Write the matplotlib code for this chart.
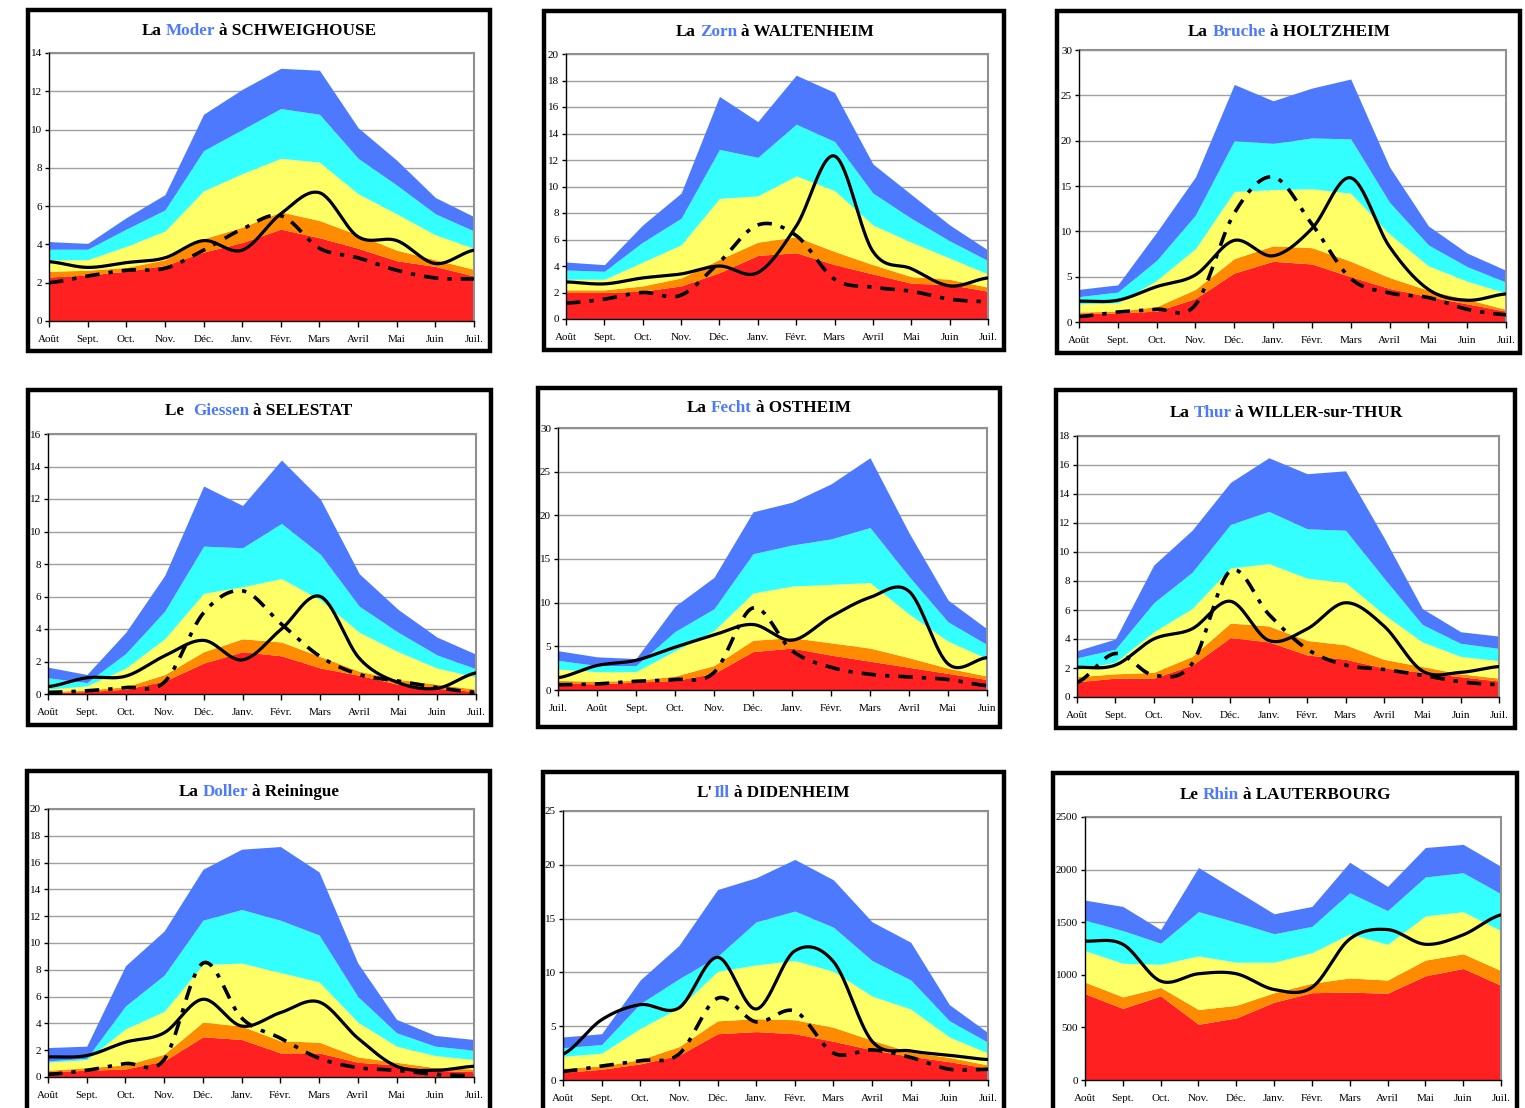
import numpy as np
import matplotlib
matplotlib.use('Agg')
import matplotlib.pyplot as plt
from matplotlib.patches import Rectangle

plt.rcParams['font.family'] = ['Liberation Serif', 'DejaVu Serif']

# month labels (hydrological year)
MONTHS = ['Août', 'Sept.', 'Oct.', 'Nov.', 'Déc.', 'Janv.', 'Févr.', 'Mars',
          'Avril', 'Mai', 'Juin', 'Juil.']
MONTHS_FECHT = ['Juil.', 'Août', 'Sept.', 'Oct.', 'Nov.', 'Déc.', 'Janv.',
                'Févr.', 'Mars', 'Avril', 'Mai', 'Juin']

# band tops (red, orange, yellow, cyan, blue), solid line, dashed line
moder_bands = [
    [2.3, 2.4, 2.6, 2.9, 3.6, 4.1, 4.8, 4.35, 3.8, 3.15, 2.85, 2.35],
    [2.6, 2.65, 2.8, 3.2, 4.3, 4.9, 5.7, 5.25, 4.5, 3.7, 3.2, 2.7],
    [3.2, 3.2, 3.9, 4.7, 6.8, 7.7, 8.5, 8.3, 6.65, 5.6, 4.5, 3.8],
    [3.75, 3.75, 4.8, 5.8, 8.9, 10.0, 11.1, 10.8, 8.5, 7.1, 5.6, 4.7],
    [4.15, 4.05, 5.4, 6.6, 10.8, 12.1, 13.2, 13.1, 10.1, 8.4, 6.45, 5.45]]
moder_q = [3.1, 2.8, 3.05, 3.3, 4.2, 3.7, 5.6, 6.7, 4.4, 4.2, 3.0, 3.7]
moder_dry = [2.0, 2.35, 2.65, 2.75, 3.7, 4.8, 5.5, 3.8, 3.3, 2.65, 2.25, 2.2]

zorn_bands = [
    [2.0, 2.0, 2.1, 2.5, 3.5, 4.8, 5.0, 4.1, 3.4, 2.7, 2.6, 2.1],
    [2.2, 2.2, 2.5, 3.1, 4.5, 5.8, 6.2, 5.1, 4.1, 3.2, 3.0, 2.4],
    [3.0, 3.0, 4.3, 5.6, 9.1, 9.3, 10.8, 9.7, 7.1, 5.8, 4.6, 3.4],
    [3.7, 3.6, 5.8, 7.6, 12.8, 12.2, 14.7, 13.4, 9.5, 7.6, 5.9, 4.4],
    [4.3, 4.1, 7.1, 9.5, 16.8, 14.9, 18.4, 17.1, 11.7, 9.4, 7.1, 5.2]]
zorn_q = [2.8, 2.65, 3.1, 3.4, 4.0, 3.5, 7.0, 12.3, 5.1, 3.8, 2.5, 3.1]
zorn_dry = [1.2, 1.5, 2.0, 1.8, 4.3, 7.1, 6.3, 3.0, 2.4, 2.1, 1.5, 1.3]

bruche_bands = [
    [0.9, 1.0, 1.2, 2.6, 5.4, 6.7, 6.4, 5.0, 3.7, 2.8, 2.0, 1.2],
    [1.1, 1.2, 1.7, 3.6, 7.0, 8.4, 8.2, 6.7, 4.9, 3.5, 2.5, 1.4],
    [2.0, 2.1, 4.6, 8.1, 14.4, 14.6, 14.7, 14.2, 9.7, 6.2, 4.5, 3.2],
    [2.8, 3.3, 6.8, 11.8, 20.0, 19.7, 20.3, 20.2, 13.2, 8.5, 6.1, 4.4],
    [3.6, 4.1, 9.9, 16.0, 26.2, 24.4, 25.8, 26.8, 17.1, 10.6, 7.6, 5.7]]
bruche_q = [2.3, 2.4, 3.9, 5.2, 9.0, 7.3, 10.3, 15.9, 8.3, 3.6, 2.4, 3.1]
bruche_dry = [0.6, 1.1, 1.4, 1.9, 12.0, 16.0, 10.8, 4.8, 3.2, 2.7, 1.4, 0.8]

giessen_bands = [
    [0.1, 0.15, 0.3, 0.8, 1.9, 2.6, 2.35, 1.6, 1.15, 0.6, 0.35, 0.15],
    [0.15, 0.25, 0.45, 1.2, 2.6, 3.4, 3.2, 2.3, 1.4, 0.9, 0.6, 0.3],
    [0.3, 0.5, 1.6, 3.4, 6.2, 6.6, 7.1, 5.8, 3.8, 2.6, 1.6, 1.05],
    [1.0, 0.7, 2.5, 5.1, 9.1, 9.0, 10.5, 8.6, 5.4, 3.8, 2.4, 1.55],
    [1.65, 1.2, 3.8, 7.3, 12.8, 11.6, 14.4, 12.0, 7.4, 5.2, 3.5, 2.45]]
giessen_q = [0.45, 1.0, 1.1, 2.35, 3.3, 2.1, 4.0, 6.0, 2.2, 0.7, 0.35, 1.3]
giessen_dry = [0.1, 0.2, 0.4, 0.75, 5.0, 6.35, 4.3, 2.3, 1.2, 0.8, 0.4, 0.1]

fecht_bands = [
    [0.8, 0.7, 0.9, 1.1, 1.9, 4.4, 4.8, 4.0, 3.3, 2.6, 1.9, 1.2],
    [1.1, 1.0, 1.1, 1.6, 2.8, 5.7, 6.0, 5.4, 4.8, 3.7, 2.5, 1.6],
    [2.4, 2.1, 2.1, 4.5, 6.8, 11.1, 11.9, 12.1, 12.3, 8.7, 5.6, 3.6],
    [3.4, 2.8, 2.8, 6.7, 9.3, 15.6, 16.6, 17.3, 18.6, 13.0, 7.8, 5.2],
    [4.5, 3.8, 3.6, 9.6, 12.9, 20.4, 21.5, 23.6, 26.6, 18.0, 10.3, 7.0]]
fecht_q = [1.4, 2.8, 3.4, 4.9, 6.3, 7.5, 5.7, 8.4, 10.6, 11.3, 3.0, 3.7]
fecht_dry = [0.6, 0.7, 1.0, 1.2, 2.0, 9.4, 4.5, 2.6, 1.8, 1.5, 1.2, 0.5]

thur_bands = [
    [1.05, 1.3, 1.3, 2.2, 4.1, 3.8, 2.9, 2.6, 2.0, 1.7, 1.4, 1.1],
    [1.4, 1.6, 1.7, 2.8, 5.1, 4.9, 3.9, 3.6, 2.6, 2.1, 1.6, 1.3],
    [1.9, 2.4, 4.5, 6.1, 8.9, 9.2, 8.2, 7.9, 5.7, 3.8, 2.8, 2.5],
    [2.7, 3.3, 6.5, 8.6, 11.9, 12.8, 11.6, 11.5, 8.2, 5.0, 3.7, 3.35],
    [3.2, 4.0, 9.1, 11.5, 14.8, 16.5, 15.4, 15.6, 11.0, 6.1, 4.5, 4.2]]
thur_q = [2.05, 2.2, 4.0, 4.7, 6.6, 3.9, 4.7, 6.5, 4.9, 1.8, 1.7, 2.1]
thur_dry = [1.0, 3.0, 1.5, 2.3, 8.7, 5.7, 3.3, 2.2, 1.9, 1.5, 1.05, 0.85]

doller_bands = [
    [0.4, 0.5, 0.6, 1.2, 3.0, 2.8, 1.8, 1.8, 1.1, 0.9, 0.5, 0.4],
    [0.5, 0.7, 0.9, 1.7, 4.1, 3.8, 2.7, 2.6, 1.5, 1.1, 0.7, 0.6],
    [1.1, 1.3, 3.6, 4.9, 8.4, 8.5, 7.8, 7.1, 4.1, 2.3, 1.6, 1.3],
    [1.2, 1.4, 5.3, 7.6, 11.7, 12.5, 11.7, 10.6, 6.0, 3.3, 2.3, 2.0],
    [2.2, 2.3, 8.3, 10.9, 15.5, 17.0, 17.2, 15.3, 8.5, 4.3, 3.1, 2.8]]
doller_q = [1.5, 1.6, 2.6, 3.3, 5.8, 3.8, 4.8, 5.6, 2.9, 0.8, 0.5, 0.8]
doller_dry = [0.2, 0.5, 1.0, 1.3, 8.5, 4.4, 2.9, 1.4, 0.7, 0.5, 0.2, 0.1]

ill_bands = [
    [0.7, 1.0, 1.5, 2.3, 4.3, 4.5, 4.3, 3.6, 2.8, 2.2, 1.7, 1.1],
    [1.1, 1.3, 1.9, 3.1, 5.5, 5.7, 5.6, 4.9, 3.7, 2.6, 2.1, 1.4],
    [2.2, 2.5, 4.8, 6.7, 10.1, 10.7, 11.1, 10.1, 7.8, 6.6, 4.0, 2.5],
    [3.0, 3.3, 7.1, 9.4, 11.5, 14.7, 15.7, 14.2, 11.1, 9.3, 5.5, 3.5],
    [4.0, 4.3, 9.3, 12.5, 17.7, 18.8, 20.5, 18.6, 14.7, 12.8, 7.0, 4.4]]
ill_q = [2.4, 5.6, 7.0, 6.7, 11.4, 6.6, 12.0, 11.0, 3.6, 2.7, 2.3, 1.9]
ill_dry = [0.8, 1.3, 1.8, 2.4, 7.6, 5.4, 6.4, 2.5, 2.8, 2.1, 1.0, 1.0]

rhin_bands = [
    [820, 680, 800, 530, 590, 740, 830, 835, 825, 990, 1060, 900],
    [930, 790, 880, 670, 710, 830, 920, 970, 950, 1140, 1200, 1040],
    [1230, 1110, 1100, 1180, 1120, 1120, 1210, 1390, 1290, 1560, 1600, 1420],
    [1520, 1420, 1300, 1600, 1500, 1390, 1460, 1780, 1610, 1930, 1970, 1770],
    [1710, 1650, 1430, 2020, 1800, 1580, 1650, 2070, 1840, 2210, 2240, 2030]]
rhin_q = [1320, 1290, 940, 1010, 1010, 860, 880, 1340, 1430, 1290, 1380, 1570]

BAND_COLORS = ['#FF2121', '#FF8C00', '#FFFF66', '#33FFFF', '#4D79FF']
TITLE_BLUE = '#4D79FF'

W, H = 1525, 1108
fig = plt.figure(figsize=(W / 100, H / 100), dpi=100)


def smooth(y, n=30):
    # Catmull-Rom curve through the monthly points (Excel "smoothed line")
    y = np.asarray(y, float)
    p = np.concatenate([[y[0]], y, [y[-1]]])
    xs, ys = [], []
    t = np.linspace(0, 1, n, endpoint=False)
    for i in range(len(y) - 1):
        p0, p1, p2, p3 = p[i], p[i + 1], p[i + 2], p[i + 3]
        ys.append(0.5 * (2 * p1 + (-p0 + p2) * t + (2 * p0 - 5 * p1 + 4 * p2 - p3) * t ** 2
                         + (-p0 + 3 * p1 - 3 * p2 + p3) * t ** 3))
        xs.append(i + t)
    xs.append([len(y) - 1])
    ys.append([y[-1]])
    return np.concatenate(xs), np.concatenate(ys)


def add_panel(box, frame, title, bands, q, dry, ymax, ystep, months):
    l, r, t, b = box
    ax = fig.add_axes([l / W, 1 - b / H, (r - l) / W, (b - t) / H])
    x = np.arange(12)
    lower = np.zeros(12)
    for top, c in zip(bands, BAND_COLORS):
        ax.fill_between(x, lower, top, color=c, lw=0, zorder=2)
        lower = np.asarray(top, float)
    sx, sy = smooth(q)
    ax.plot(sx, sy, color='black', lw=2.3, zorder=4, solid_capstyle='round')
    if dry is not None:
        dx, dy = smooth(dry)
        ax.plot(dx, dy, color='black', lw=2.6, zorder=4,
                linestyle=(0, (4, 2.5, 1.2, 2.5)))
    ax.set_xlim(0, 11)
    ax.set_ylim(0, ymax)
    ax.set_xticks(x)
    ax.set_xticklabels(months, fontsize=8)
    yt = np.arange(0, ymax + ystep / 2, ystep)
    ax.set_yticks(yt)
    ax.set_yticklabels([str(int(v)) for v in yt], fontsize=8)
    ax.yaxis.grid(True, color='#A0A0A0', lw=1, zorder=1)
    ax.set_axisbelow(True)
    ax.tick_params(axis='x', length=4, width=1, pad=6)
    ax.tick_params(axis='y', length=3, width=1, pad=2)
    for s in ['top', 'right']:
        ax.spines[s].set_color('#909090')
        ax.spines[s].set_linewidth(1.5)
    for s in ['left', 'bottom']:
        ax.spines[s].set_color('black')
        ax.spines[s].set_linewidth(1)
        ax.spines[s].set_zorder(5)
    # black frame around the panel
    fl, ft, fr, fb = frame
    fig.patches.append(Rectangle((fl / W, 1 - fb / H), (fr - fl) / W, (fb - ft) / H,
                                 transform=fig.transFigure, fill=False,
                                 ec='black', lw=3.2, zorder=10))
    return ax


panels = [
    ((49, 474, 53, 321), (28, 10, 490, 351), ('La', 'Moder', 'à SCHWEIGHOUSE'), (259, 31),
     moder_bands, moder_q, moder_dry, 14, 2, MONTHS),
    ((566, 988, 54, 319), (544, 11, 1004, 350), ('La', 'Zorn', 'à WALTENHEIM'), (775, 32),
     zorn_bands, zorn_q, zorn_dry, 20, 2, MONTHS),
    ((1079, 1506, 50, 322), (1057, 11, 1520, 353), ('La', 'Bruche', 'à HOLTZHEIM'), (1289, 32),
     bruche_bands, bruche_q, bruche_dry, 30, 5, MONTHS),
    ((48, 476, 434, 694), (28, 390, 491, 725), ('Le ', 'Giessen', 'à SELESTAT'), (259, 411),
     giessen_bands, giessen_q, giessen_dry, 16, 2, MONTHS),
    ((558, 987, 428, 690), (538, 388, 1000, 727), ('La', 'Fecht', 'à OSTHEIM'), (769, 408),
     fecht_bands, fecht_q, fecht_dry, 30, 5, MONTHS_FECHT),
    ((1077, 1499, 436, 697), (1056, 390, 1515, 728), ('La', 'Thur', 'à WILLER-sur-THUR'), (1286, 413),
     thur_bands, thur_q, thur_dry, 18, 2, MONTHS),
    ((48, 474, 809, 1077), (27, 771, 490, 1112), ('La', 'Doller', 'à Reiningue'), (259, 792),
     doller_bands, doller_q, doller_dry, 20, 2, MONTHS),
    ((563, 988, 811, 1080), (543, 772, 1004, 1112), ("L'", 'Ill', 'à DIDENHEIM'), (773, 793),
     ill_bands, ill_q, ill_dry, 25, 5, MONTHS),
    ((1085, 1501, 817, 1080), (1053, 773, 1517, 1112), ('Le', 'Rhin', 'à LAUTERBOURG'), (1285, 795),
     rhin_bands, rhin_q, None, 2500, 500, MONTHS),
]

for box, frame, title, center, bands, q, dry, ymax, ystep, months in panels:
    add_panel(box, frame, title, bands, q, dry, ymax, ystep, months)

# titles: three pieces, river name in blue, centred as a whole
fig.canvas.draw()
renderer = fig.canvas.get_renderer()
TITLE_KW = dict(fontsize=12.3, fontweight='bold', ha='left', va='center')
probe = fig.text(0, 0, '', **TITLE_KW)


def text_width(s):
    # width of s measured between two markers, so spaces count
    probe.set_text('|' + s + '|')
    w = probe.get_window_extent(renderer).width
    probe.set_text('||')
    return w - probe.get_window_extent(renderer).width


for box, frame, title, center, *rest in panels:
    pre, river, post = title
    sep = '' if pre.endswith("'") else ' '
    head = pre + sep
    mid = head + river + ' '
    full = mid + post
    x0 = center[0] - text_width(full) / 2
    ypos = 1 - center[1] / H
    for s, c, off in [(pre, 'black', 0), (river, TITLE_BLUE, text_width(head)),
                      (post, 'black', text_width(mid))]:
        fig.text((x0 + off) / W, ypos, s, color=c, **TITLE_KW)
probe.remove()

fig.savefig('out.png', dpi=100, facecolor='white')
